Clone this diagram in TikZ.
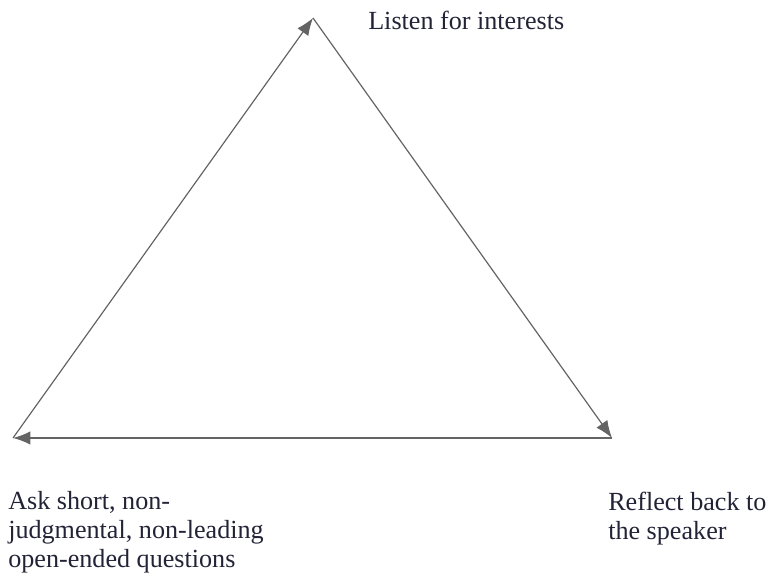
\documentclass[tikz,border=0pt]{standalone}
\usepackage{fontspec}
\setmainfont{Liberation Serif}
\usetikzlibrary{arrows.meta}
\definecolor{edgegray}{RGB}{100,100,100}
\definecolor{labelblue}{RGB}{35,35,55}

\begin{document}
\begin{tikzpicture}[x=0.75pt, y=0.75pt, >={Latex[length=13pt,width=10pt]}, font=\fontsize{19.6}{21.75}\selectfont]
	% Rahmen
	\useasboundingbox (0,0) rectangle (773,577);
	% Ecken des Dreiecks
	\coordinate (apex) at (313,559);
	\coordinate (left) at (13,139);
	\coordinate (right) at (612,139);
	% Kanten
	\draw[->,edgegray,line width=0.9pt] (left) -- (apex);
	\draw[->,edgegray,line width=0.9pt] (apex) -- (right);
	\draw[->,edgegray,line width=0.9pt] (right) -- (left);
	% Beschriftung (base = Grundlinie der letzten Zeile)
	\node[labelblue, anchor=base west, inner sep=0pt] (listen) at (368,547) {Listen for interests};
	\node[labelblue, anchor=base west, align=left, inner sep=0pt] (ask) at (8,9) {Ask short, non-\\judgmental, non-leading\\open-ended questions};
	\node[labelblue, anchor=base west, align=left, inner sep=0pt] (reflect) at (608,37) {Reflect back to\\the speaker};
\end{tikzpicture}
\end{document}
